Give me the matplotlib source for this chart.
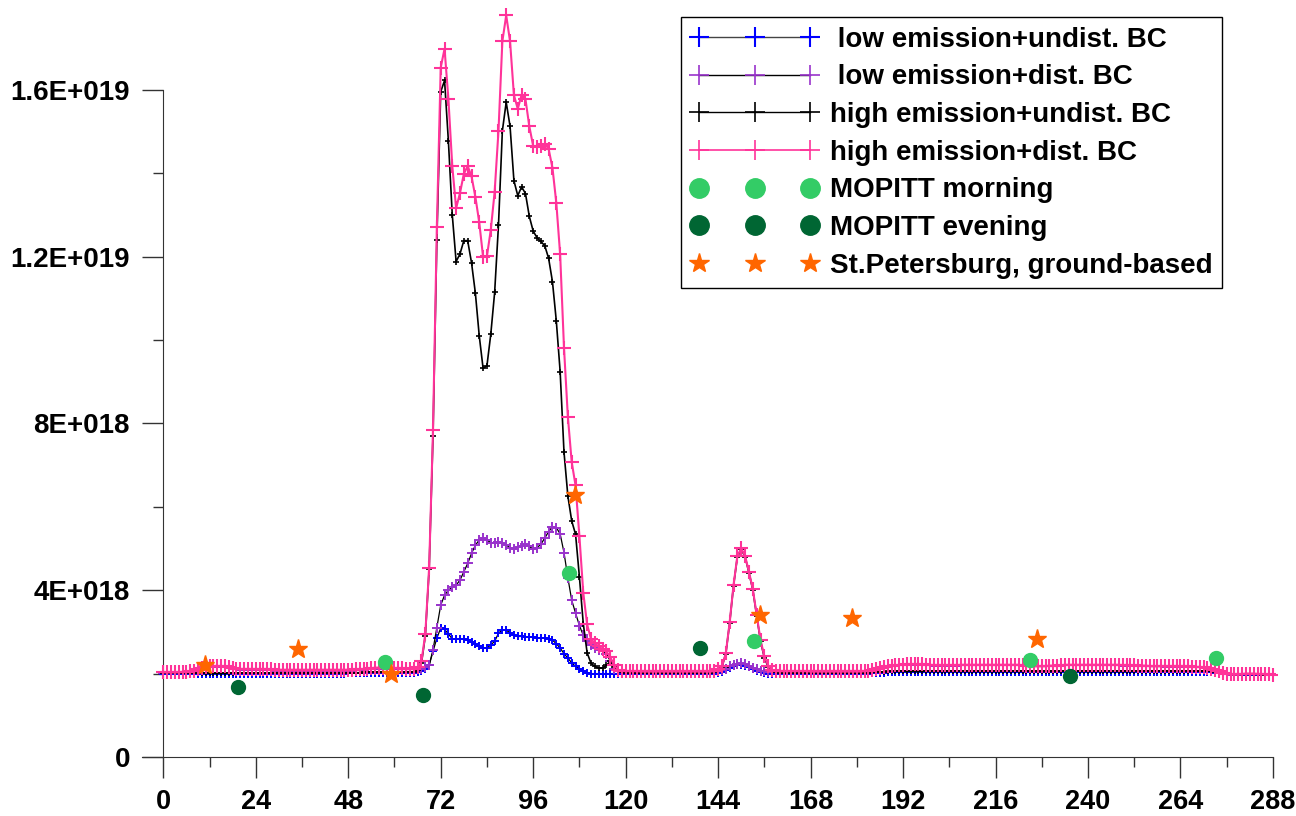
import numpy as np
import matplotlib
matplotlib.use("Agg")
import matplotlib.pyplot as plt
from matplotlib.lines import Line2D
from matplotlib.ticker import FuncFormatter, FixedLocator

plt.rcParams['font.family'] = ['Liberation Sans', 'DejaVu Sans']
plt.rcParams['font.weight'] = 'bold'

# hours 0..288, values in units of 1E+018
hours = list(range(289))

high_dist = [
    2.03, 2.03, 2.03, 2.03, 2.03, 2.04, 2.04, 2.05, 2.06, 2.10, 2.14, 2.16,
    2.17, 2.17, 2.17, 2.17, 2.17, 2.16, 2.14, 2.12, 2.11, 2.11, 2.11, 2.11,
    2.10, 2.10, 2.10, 2.10, 2.10, 2.09, 2.09, 2.09, 2.09, 2.09, 2.09, 2.09,
    2.09, 2.09, 2.09, 2.09, 2.09, 2.09, 2.09, 2.09, 2.09, 2.09, 2.09, 2.09,
    2.09, 2.09, 2.10, 2.10, 2.11, 2.12, 2.13, 2.14, 2.14, 2.14, 2.14, 2.14,
    2.13, 2.13, 2.13, 2.12, 2.12, 2.12, 2.15, 2.29, 2.95, 4.53, 7.84, 12.70,
    16.53, 16.98, 15.77, 14.17, 13.16, 13.52, 13.98, 14.17, 13.92, 13.43, 12.82, 11.99,
    12.01, 12.64, 13.55, 15.02, 17.16, 17.78, 17.16, 15.87, 15.54, 15.88, 15.77, 15.12,
    14.65, 14.62, 14.65, 14.70, 14.58, 14.13, 13.29, 12.05, 9.81, 8.16, 7.07, 6.51,
    5.29, 3.94, 3.18, 2.83, 2.73, 2.65, 2.59, 2.53, 2.40, 2.20, 2.09, 2.07,
    2.06, 2.06, 2.06, 2.06, 2.05, 2.05, 2.05, 2.05, 2.05, 2.05, 2.05, 2.05,
    2.05, 2.05, 2.05, 2.05, 2.05, 2.05, 2.05, 2.05, 2.05, 2.05, 2.05, 2.06,
    2.10, 2.17, 2.49, 3.23, 4.12, 4.82, 5.00, 4.82, 4.44, 4.03, 3.41, 2.81,
    2.41, 2.19, 2.08, 2.06, 2.06, 2.06, 2.06, 2.06, 2.06, 2.06, 2.06, 2.06,
    2.05, 2.05, 2.05, 2.05, 2.05, 2.05, 2.05, 2.05, 2.05, 2.05, 2.05, 2.05,
    2.05, 2.05, 2.06, 2.07, 2.09, 2.11, 2.13, 2.15, 2.17, 2.19, 2.20, 2.21,
    2.21, 2.22, 2.22, 2.22, 2.22, 2.22, 2.21, 2.21, 2.20, 2.20, 2.20, 2.20,
    2.20, 2.20, 2.20, 2.21, 2.21, 2.21, 2.21, 2.21, 2.21, 2.21, 2.21, 2.21,
    2.21, 2.21, 2.21, 2.21, 2.21, 2.21, 2.21, 2.20, 2.19, 2.18, 2.18, 2.18,
    2.18, 2.18, 2.19, 2.19, 2.19, 2.20, 2.21, 2.21, 2.21, 2.21, 2.21, 2.21,
    2.21, 2.21, 2.21, 2.21, 2.21, 2.21, 2.21, 2.21, 2.21, 2.20, 2.20, 2.20,
    2.20, 2.19, 2.19, 2.19, 2.18, 2.18, 2.18, 2.18, 2.17, 2.17, 2.17, 2.17,
    2.17, 2.17, 2.17, 2.16, 2.16, 2.16, 2.15, 2.14, 2.12, 2.09, 2.05, 2.01,
    1.99, 1.98, 1.98, 1.98, 1.99, 2.00, 2.00, 2.00, 1.99, 1.99, 1.98, 1.98,
    1.97,
]

high_undist = [
    2.01, 2.01, 2.01, 2.01, 2.01, 2.01, 2.01, 2.01, 2.01, 2.01, 2.01, 2.01,
    2.01, 2.01, 2.01, 2.01, 2.01, 2.01, 2.01, 2.01, 2.01, 2.01, 2.01, 2.01,
    2.01, 2.01, 2.01, 2.01, 2.01, 2.01, 2.01, 2.01, 2.01, 2.01, 2.01, 2.01,
    2.01, 2.01, 2.01, 2.01, 2.01, 2.01, 2.01, 2.01, 2.01, 2.01, 2.01, 2.01,
    2.02, 2.02, 2.02, 2.02, 2.03, 2.03, 2.03, 2.03, 2.03, 2.03, 2.03, 2.03,
    2.03, 2.03, 2.03, 2.03, 2.03, 2.04, 2.08, 2.25, 2.90, 4.50, 7.70, 12.40,
    15.95, 16.22, 14.76, 13.00, 11.88, 12.06, 12.38, 12.38, 11.85, 11.12, 10.10, 9.32,
    9.38, 10.14, 11.14, 12.76, 15.01, 15.70, 15.12, 13.82, 13.46, 13.67, 13.51, 12.96,
    12.61, 12.45, 12.36, 12.26, 11.96, 11.40, 10.46, 9.24, 7.31, 6.26, 5.66, 5.34,
    4.32, 3.20, 2.50, 2.25, 2.17, 2.13, 2.13, 2.20, 2.29, 2.15, 2.05, 2.03,
    2.02, 2.02, 2.02, 2.02, 2.02, 2.02, 2.02, 2.02, 2.02, 2.02, 2.02, 2.02,
    2.02, 2.02, 2.02, 2.02, 2.02, 2.02, 2.02, 2.02, 2.02, 2.02, 2.02, 2.03,
    2.08, 2.16, 2.48, 3.22, 4.11, 4.80, 4.98, 4.80, 4.42, 4.01, 3.39, 2.78,
    2.38, 2.16, 2.05, 2.03, 2.02, 2.02, 2.02, 2.02, 2.02, 2.02, 2.02, 2.02,
    2.02, 2.02, 2.02, 2.02, 2.02, 2.02, 2.02, 2.02, 2.02, 2.02, 2.02, 2.02,
    2.02, 2.02, 2.02, 2.02, 2.03, 2.03, 2.04, 2.04, 2.05, 2.05, 2.06, 2.06,
    2.06, 2.06, 2.06, 2.06, 2.06, 2.06, 2.06, 2.06, 2.06, 2.06, 2.06, 2.06,
    2.06, 2.06, 2.06, 2.06, 2.06, 2.06, 2.06, 2.06, 2.06, 2.06, 2.06, 2.06,
    2.06, 2.06, 2.06, 2.06, 2.06, 2.06, 2.06, 2.06, 2.06, 2.05, 2.05, 2.05,
    2.05, 2.05, 2.05, 2.05, 2.05, 2.06, 2.06, 2.06, 2.06, 2.06, 2.06, 2.06,
    2.06, 2.06, 2.06, 2.06, 2.06, 2.06, 2.06, 2.06, 2.06, 2.06, 2.06, 2.06,
    2.06, 2.06, 2.06, 2.06, 2.06, 2.06, 2.06, 2.06, 2.06, 2.06, 2.06, 2.06,
    2.06, 2.06, 2.06, 2.06, 2.06, 2.06, 2.06, 2.06, 2.05, 2.04, 2.02, 2.00,
    1.99, 1.98, 1.98, 1.98, 1.98, 1.98, 1.98, 1.98, 1.98, 1.98, 1.97, 1.97,
    1.97,
]

low_dist = [
    2.02, 2.02, 2.02, 2.02, 2.02, 2.03, 2.03, 2.04, 2.05, 2.08, 2.12, 2.14,
    2.15, 2.15, 2.15, 2.15, 2.15, 2.14, 2.12, 2.10, 2.09, 2.09, 2.09, 2.09,
    2.08, 2.08, 2.08, 2.08, 2.08, 2.07, 2.07, 2.07, 2.07, 2.07, 2.07, 2.07,
    2.07, 2.07, 2.07, 2.07, 2.07, 2.07, 2.07, 2.07, 2.07, 2.07, 2.07, 2.07,
    2.07, 2.07, 2.08, 2.08, 2.09, 2.10, 2.11, 2.12, 2.12, 2.12, 2.12, 2.12,
    2.11, 2.11, 2.11, 2.10, 2.10, 2.10, 2.10, 2.12, 2.15, 2.20, 2.57, 3.10,
    3.64, 3.88, 4.00, 4.07, 4.12, 4.24, 4.44, 4.64, 4.88, 5.08, 5.20, 5.24,
    5.20, 5.14, 5.13, 5.16, 5.13, 5.09, 5.01, 4.98, 5.04, 5.07, 5.10, 5.05,
    4.98, 5.02, 5.10, 5.25, 5.40, 5.52, 5.50, 5.35, 4.90, 4.30, 3.76, 3.45,
    3.15, 2.92, 2.78, 2.68, 2.62, 2.57, 2.53, 2.48, 2.30, 2.12, 2.05, 2.05,
    2.04, 2.04, 2.04, 2.04, 2.04, 2.04, 2.04, 2.04, 2.04, 2.04, 2.04, 2.04,
    2.04, 2.04, 2.04, 2.04, 2.04, 2.04, 2.04, 2.04, 2.04, 2.04, 2.04, 2.04,
    2.06, 2.08, 2.12, 2.17, 2.21, 2.24, 2.25, 2.23, 2.19, 2.14, 2.10, 2.07,
    2.05, 2.04, 2.04, 2.04, 2.04, 2.04, 2.04, 2.04, 2.04, 2.04, 2.04, 2.04,
    2.04, 2.04, 2.04, 2.04, 2.04, 2.04, 2.04, 2.04, 2.04, 2.04, 2.04, 2.04,
    2.04, 2.04, 2.05, 2.06, 2.08, 2.10, 2.12, 2.14, 2.16, 2.18, 2.19, 2.20,
    2.20, 2.21, 2.21, 2.21, 2.21, 2.21, 2.20, 2.20, 2.19, 2.19, 2.19, 2.19,
    2.19, 2.19, 2.19, 2.20, 2.20, 2.20, 2.20, 2.20, 2.20, 2.20, 2.20, 2.20,
    2.20, 2.20, 2.20, 2.20, 2.20, 2.20, 2.20, 2.19, 2.18, 2.17, 2.17, 2.17,
    2.17, 2.17, 2.18, 2.18, 2.18, 2.19, 2.20, 2.20, 2.20, 2.20, 2.20, 2.20,
    2.20, 2.20, 2.20, 2.20, 2.20, 2.20, 2.20, 2.20, 2.20, 2.19, 2.19, 2.19,
    2.19, 2.18, 2.18, 2.18, 2.17, 2.17, 2.17, 2.17, 2.16, 2.16, 2.16, 2.16,
    2.16, 2.16, 2.16, 2.15, 2.15, 2.15, 2.14, 2.13, 2.11, 2.08, 2.04, 2.00,
    1.98, 1.97, 1.97, 1.97, 1.98, 1.99, 1.99, 1.99, 1.98, 1.98, 1.97, 1.97,
    1.96,
]

low_undist = [
    2.00, 2.00, 2.00, 2.00, 2.00, 2.00, 2.00, 2.00, 2.00, 2.00, 2.00, 2.00,
    2.00, 2.00, 2.00, 2.00, 2.00, 2.00, 2.00, 2.00, 2.00, 2.00, 2.00, 2.00,
    2.00, 2.00, 2.00, 2.00, 2.00, 2.00, 2.00, 2.00, 2.00, 2.00, 2.00, 2.00,
    2.00, 2.00, 2.00, 2.00, 2.00, 2.00, 2.00, 2.00, 2.00, 2.00, 2.00, 2.00,
    2.01, 2.01, 2.01, 2.01, 2.02, 2.02, 2.02, 2.02, 2.02, 2.02, 2.02, 2.02,
    2.02, 2.02, 2.02, 2.02, 2.02, 2.02, 2.03, 2.05, 2.10, 2.20, 2.53, 2.85,
    3.09, 3.06, 2.95, 2.83, 2.82, 2.82, 2.82, 2.80, 2.76, 2.70, 2.65, 2.61,
    2.61, 2.69, 2.77, 2.97, 3.05, 3.04, 2.98, 2.92, 2.89, 2.89, 2.88, 2.87,
    2.87, 2.86, 2.85, 2.85, 2.84, 2.80, 2.72, 2.61, 2.48, 2.37, 2.26, 2.17,
    2.11, 2.05, 2.02, 2.00, 2.00, 2.00, 2.00, 2.00, 2.00, 2.00, 2.00, 2.00,
    2.00, 2.00, 2.00, 2.00, 2.00, 2.00, 2.00, 2.00, 2.00, 2.00, 2.00, 2.00,
    2.00, 2.00, 2.00, 2.00, 2.00, 2.00, 2.00, 2.00, 2.00, 2.00, 2.00, 2.00,
    2.02, 2.04, 2.08, 2.13, 2.17, 2.20, 2.21, 2.19, 2.15, 2.10, 2.06, 2.03,
    2.01, 2.00, 2.00, 2.00, 2.00, 2.00, 2.00, 2.00, 2.00, 2.00, 2.00, 2.00,
    2.00, 2.00, 2.00, 2.00, 2.00, 2.00, 2.00, 2.00, 2.00, 2.00, 2.00, 2.00,
    2.00, 2.00, 2.00, 2.00, 2.01, 2.01, 2.02, 2.02, 2.03, 2.03, 2.04, 2.04,
    2.04, 2.04, 2.04, 2.04, 2.04, 2.04, 2.04, 2.04, 2.04, 2.04, 2.04, 2.04,
    2.04, 2.04, 2.04, 2.04, 2.04, 2.04, 2.04, 2.04, 2.04, 2.04, 2.04, 2.04,
    2.04, 2.04, 2.04, 2.04, 2.04, 2.04, 2.04, 2.04, 2.04, 2.03, 2.03, 2.03,
    2.03, 2.03, 2.03, 2.03, 2.03, 2.04, 2.04, 2.04, 2.04, 2.04, 2.04, 2.04,
    2.04, 2.04, 2.04, 2.04, 2.04, 2.04, 2.04, 2.04, 2.04, 2.04, 2.04, 2.04,
    2.04, 2.04, 2.04, 2.04, 2.04, 2.04, 2.04, 2.04, 2.04, 2.04, 2.04, 2.04,
    2.04, 2.04, 2.04, 2.04, 2.04, 2.04, 2.04, 2.04, 2.03, 2.02, 2.01, 1.99,
    1.98, 1.97, 1.97, 1.97, 1.97, 1.97, 1.97, 1.97, 1.97, 1.97, 1.96, 1.96,
    1.96,
]

# satellite / ground observations (hour, value in 1E+018)
mopitt_morning_t = [57.5, 105.4, 153.4, 225.0, 273.3]
mopitt_morning_v = [2.27, 4.41, 2.78, 2.33, 2.37]
mopitt_evening_t = [19.5, 67.5, 139.4, 235.4]
mopitt_evening_v = [1.67, 1.48, 2.61, 1.94]
spb_t = [10.8, 35.0, 59.0, 106.8, 154.9, 178.8, 226.8]
spb_v = [2.20, 2.59, 1.99, 6.28, 3.40, 3.33, 2.83]

labels = [" low emission+undist. BC", " low emission+dist. BC",
          "high emission+undist. BC", "high emission+dist. BC",
          "MOPITT morning", "MOPITT evening", "St.Petersburg, ground-based"]

BLUE = '#0000FF'
PURPLE = '#9933CC'
PINK = '#FF3399'
LGREEN = '#33CC66'
DGREEN = '#006633'
ORANGE = '#FF6600'

scale = 1e18
t = np.array(hours)

fig = plt.figure(figsize=(12.96, 8.16), dpi=100)
ax = fig.add_axes([142.1 / 1296, 59 / 816, (1276.8 - 142.1) / 1296, 757 / 816])

ax.plot(t, np.array(low_undist) * scale, color='black', lw=0.9, marker='+',
        ms=6, mew=1.4, mec=BLUE, zorder=2)
ax.plot(t, np.array(low_dist) * scale, color='black', lw=0.9, marker='+',
        ms=7, mew=1.4, mec=PURPLE, zorder=3)
ax.plot(t, np.array(high_undist) * scale, color='black', lw=1.2, marker='+',
        ms=5, mew=1.2, mec='black', zorder=4)
ax.plot(t, np.array(high_dist) * scale, color=PINK, lw=1.5, marker='+',
        ms=10, mew=1.5, mec=PINK, zorder=5)

ax.plot(mopitt_morning_t, np.array(mopitt_morning_v) * scale, ls='none',
        marker='o', ms=10, color=LGREEN, zorder=6)
ax.plot(mopitt_evening_t, np.array(mopitt_evening_v) * scale, ls='none',
        marker='o', ms=10, color=DGREEN, zorder=6)
ax.plot(spb_t, np.array(spb_v) * scale, ls='none', marker='*', ms=14,
        color=ORANGE, zorder=7)

ax.set_xlim(-5.5, 289)
ax.set_ylim(0, 18.15 * scale)

for s in ['top', 'right']:
    ax.spines[s].set_visible(False)
ax.spines['left'].set_position(('data', 0))
ax.spines['left'].set_bounds(0, 16 * scale)
ax.spines['bottom'].set_bounds(-5.5, 288)
ax.spines['left'].set_color('#333333')
ax.spines['bottom'].set_color('#333333')

ax.set_xticks(np.arange(0, 289, 24))
ax.xaxis.set_minor_locator(FixedLocator(np.arange(12, 288, 24)))
ax.set_yticks(np.arange(0, 17, 4) * scale)
ax.yaxis.set_minor_locator(FixedLocator(np.arange(2, 16, 4) * scale))


def sci_fmt(v, pos):
    if v == 0:
        return "0"
    e = int(np.floor(np.log10(abs(v)) + 1e-9))
    m = v / 10 ** e
    return "%gE+%03d" % (round(m, 3), e)


ax.yaxis.set_major_formatter(FuncFormatter(sci_fmt))
ax.tick_params(axis='both', which='major', length=15, width=1, color='#333333',
               labelsize=20, direction='out')
ax.tick_params(axis='both', which='minor', length=7.5, width=1, color='#333333',
               direction='out')
ax.tick_params(axis='x', which='major', pad=8, labelsize=19.5)
ax.tick_params(axis='y', which='major', pad=9)
for lab in ax.get_xticklabels() + ax.get_yticklabels():
    lab.set_fontweight('bold')

handles = [
    Line2D([], [], color='#444444', lw=1, marker='+', ms=14, mew=1.5, mec=BLUE),
    Line2D([], [], color='black', lw=1, marker='+', ms=14, mew=1.2, mec=PURPLE),
    Line2D([], [], color='black', lw=1, marker='+', ms=14, mew=1.2, mec='black'),
    Line2D([], [], color=PINK, lw=1.2, marker='+', ms=14, mew=1.2, mec=PINK),
    Line2D([], [], ls='none', marker='o', ms=14, color=LGREEN),
    Line2D([], [], ls='none', marker='o', ms=14, color=DGREEN),
    Line2D([], [], ls='none', marker='*', ms=15, color=ORANGE),
]
leg = ax.legend(handles, labels, loc='upper right',
                bbox_to_anchor=(1222 / 1296, 1 - 17 / 816),
                bbox_transform=fig.transFigure, numpoints=3, handlelength=4.6,
                handletextpad=0.4, labelspacing=0.42, borderpad=0.35,
                borderaxespad=0, fancybox=False, framealpha=1,
                edgecolor='black', prop={'size': 20, 'weight': 'bold'})
leg.get_frame().set_linewidth(1.0)

fig.savefig('out.png', dpi=100)
